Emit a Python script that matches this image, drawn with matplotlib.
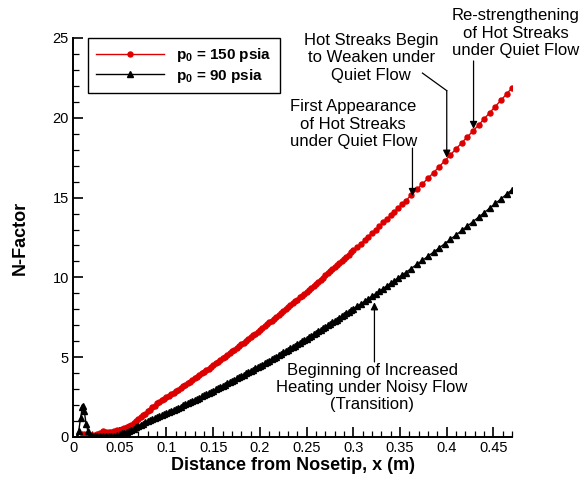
import numpy as np
import matplotlib
matplotlib.use("Agg")
import matplotlib.pyplot as plt
from matplotlib.ticker import MultipleLocator

plt.rcParams['font.family'] = ['Liberation Sans', 'DejaVu Sans']
plt.rcParams['mathtext.fontset'] = 'custom'
plt.rcParams['mathtext.rm'] = 'Liberation Sans'
plt.rcParams['mathtext.bf'] = 'Liberation Sans:bold'

# streamwise stations along the cone (m)
x_station = [
    0.004, 0.006, 0.008, 0.010, 0.011, 0.012, 0.014, 0.016, 0.018, 0.020,
    0.023, 0.026, 0.029, 0.032, 0.035, 0.038, 0.041, 0.044, 0.047, 0.050,
    0.0525, 0.055, 0.0575, 0.060, 0.0625, 0.065, 0.0675, 0.070, 0.0725, 0.075,
    0.0775, 0.080, 0.0825, 0.085, 0.0875, 0.090, 0.0925, 0.095, 0.0975, 0.100,
    0.1025, 0.105, 0.1075, 0.110, 0.1125, 0.115, 0.1175, 0.120, 0.1225, 0.125,
    0.1275, 0.130, 0.1325, 0.135, 0.1375, 0.140, 0.1425, 0.145, 0.1475, 0.150,
    0.1525, 0.155, 0.1575, 0.160, 0.1625, 0.165, 0.1675, 0.170, 0.1725, 0.175,
    0.1775, 0.180, 0.1825, 0.185, 0.1875, 0.190, 0.1925, 0.195, 0.1975, 0.200,
    0.2025, 0.205, 0.2075, 0.210, 0.2125, 0.215, 0.2175, 0.220, 0.2225, 0.225,
    0.2275, 0.230, 0.2325, 0.235, 0.2375, 0.240, 0.2425, 0.245, 0.2475, 0.250,
    0.2525, 0.255, 0.2575, 0.260, 0.2625, 0.265, 0.2675, 0.270, 0.2725, 0.275,
    0.2775, 0.280, 0.2825, 0.285, 0.2875, 0.290, 0.2925, 0.295, 0.2975, 0.300,
    0.304, 0.308, 0.312, 0.316, 0.320, 0.324, 0.328, 0.332, 0.336, 0.340,
    0.344, 0.348, 0.352, 0.356, 0.362,
    0.368, 0.374, 0.380, 0.386, 0.392, 0.398, 0.404, 0.410, 0.416, 0.422,
    0.428, 0.434, 0.440, 0.446, 0.452, 0.458, 0.464, 0.470,
]

# N-factor, p0 = 150 psia
n_150 = [
    np.nan, np.nan, np.nan, -0.15, 0.10, 0.20, 0.15, 0.10, 0.08, 0.10,
    0.12, 0.18, 0.28, 0.38, 0.32, 0.30, 0.33, 0.38, 0.42, 0.46,
    0.50, 0.54, 0.60, 0.68, 0.77, 0.88, 1.00, 1.11, 1.23, 1.35,
    1.47, 1.60, 1.72, 1.85, 1.97, 2.10, 2.20, 2.29, 2.39, 2.49,
    2.58, 2.68, 2.78, 2.87, 2.97, 3.07, 3.17, 3.27, 3.37, 3.47,
    3.57, 3.67, 3.78, 3.88, 3.98, 4.09, 4.19, 4.29, 4.40, 4.50,
    4.61, 4.72, 4.82, 4.93, 5.04, 5.15, 5.26, 5.36, 5.47, 5.58,
    5.69, 5.81, 5.92, 6.03, 6.14, 6.25, 6.37, 6.48, 6.60, 6.71,
    6.83, 6.94, 7.06, 7.18, 7.29, 7.41, 7.53, 7.65, 7.77, 7.89,
    8.01, 8.13, 8.25, 8.37, 8.49, 8.61, 8.74, 8.86, 8.98, 9.11,
    9.23, 9.36, 9.48, 9.61, 9.73, 9.86, 9.99, 10.12, 10.25, 10.37,
    10.50, 10.63, 10.76, 10.90, 11.03, 11.16, 11.29, 11.42, 11.56, 11.69,
    11.90, 12.12, 12.34, 12.56, 12.78, 13.00, 13.22, 13.44, 13.67, 13.89,
    14.12, 14.35, 14.58, 14.81, 15.15,
    15.51, 15.86, 16.22, 16.57, 16.94, 17.30, 17.67, 18.04, 18.41, 18.78,
    19.16, 19.54, 19.93, 20.31, 20.70, 21.09, 21.49, 21.88,
]

# N-factor, p0 = 90 psia
n_90 = [
    0.00, 0.35, 1.20, 1.85, 1.95, 1.60, 0.80, 0.35, 0.15, 0.08,
    0.05, 0.04, 0.04, 0.04, 0.04, 0.05, 0.06, 0.08, 0.12, 0.18,
    0.23, 0.28, 0.33, 0.39, 0.46, 0.53, 0.60, 0.68, 0.76, 0.84,
    0.92, 0.99, 1.05, 1.11, 1.18, 1.24, 1.31, 1.37, 1.44, 1.50,
    1.57, 1.64, 1.70, 1.77, 1.84, 1.91, 1.98, 2.05, 2.12, 2.19,
    2.26, 2.33, 2.40, 2.47, 2.54, 2.61, 2.69, 2.76, 2.83, 2.91,
    2.98, 3.06, 3.13, 3.21, 3.28, 3.36, 3.43, 3.51, 3.59, 3.67,
    3.74, 3.82, 3.90, 3.98, 4.06, 4.14, 4.22, 4.30, 4.38, 4.46,
    4.54, 4.63, 4.71, 4.79, 4.88, 4.96, 5.04, 5.13, 5.21, 5.30,
    5.38, 5.47, 5.56, 5.64, 5.73, 5.82, 5.91, 5.99, 6.08, 6.17,
    6.26, 6.35, 6.44, 6.53, 6.62, 6.71, 6.81, 6.90, 6.99, 7.08,
    7.18, 7.27, 7.36, 7.46, 7.55, 7.65, 7.74, 7.84, 7.93, 8.03,
    8.19, 8.34, 8.50, 8.66, 8.82, 8.98, 9.14, 9.30, 9.47, 9.63,
    9.80, 9.96, 10.13, 10.30, 10.55,
    10.81, 11.07, 11.33, 11.59, 11.85, 12.12, 12.39, 12.66, 12.94, 13.21,
    13.49, 13.77, 14.05, 14.34, 14.63, 14.91, 15.21, 15.50,
]

fig = plt.figure(figsize=(5.8, 4.79), dpi=100)
ax = fig.add_axes([0.126, 0.0877, 0.757, 0.833])

ax.plot(x_station, n_150, color='#dd0000', lw=1.0, marker='o', ms=3.6,
        mec='#dd0000', mfc='#dd0000', label=r'$\mathbf{p_0}$ = 150 psia')
ax.plot(x_station, n_90, color='black', lw=1.0, marker='^', ms=4.3,
        label=r'$\mathbf{p_0}$ = 90 psia')

ax.set_xlim(0, 0.47)
ax.set_ylim(0, 25)
ax.set_xticks([0, 0.05, 0.1, 0.15, 0.2, 0.25, 0.3, 0.35, 0.4, 0.45])
ax.set_xticklabels(['0', '0.05', '0.1', '0.15', '0.2', '0.25', '0.3', '0.35', '0.4', '0.45'])
ax.xaxis.set_minor_locator(MultipleLocator(0.01))
ax.yaxis.set_major_locator(MultipleLocator(5))
ax.yaxis.set_minor_locator(MultipleLocator(1))

for side in ['top', 'right']:
    ax.spines[side].set_visible(False)
for side in ['left', 'bottom']:
    ax.spines[side].set_linewidth(1.4)
ax.tick_params(which='major', direction='in', length=7, width=1.2, labelsize=10.5, pad=3)
ax.tick_params(which='minor', direction='in', length=4, width=0.9)

ax.set_xlabel('Distance from Nosetip, x (m)', fontsize=13, fontweight='bold', labelpad=1)
ax.set_ylabel('N-Factor', fontsize=13, fontweight='bold', labelpad=17)

leg = ax.legend(loc='upper left', bbox_to_anchor=(0.034, 1.0),
                prop={'weight': 'bold', 'size': 11}, handlelength=4.4,
                borderpad=0.55, labelspacing=0.15, fancybox=False, framealpha=1,
                borderaxespad=0, handletextpad=0.8)
leg.get_frame().set_edgecolor('black')
leg.get_frame().set_linewidth(1.0)

arrow = dict(arrowstyle='-|>', color='black', lw=0.9, mutation_scale=11,
             shrinkA=0, shrinkB=0)
tkw = dict(ha='center', va='center', fontsize=12, multialignment='center')

ax.text(0.300, 19.6, 'First Appearance\nof Hot Streaks\nunder Quiet Flow', **tkw)
ax.annotate('', xy=(0.3633, 15.1), xytext=(0.3633, 18.1), arrowprops=arrow)

ax.text(0.319, 23.75, 'Hot Streaks Begin\nto Weaken under\nQuiet Flow', **tkw)
ax.plot([0.374, 0.400], [22.8, 21.7], color='black', lw=0.9)
ax.annotate('', xy=(0.400, 17.5), xytext=(0.400, 21.7), arrowprops=arrow)

ax.text(0.474, 25.3, 'Re-strengthening\nof Hot Streaks\nunder Quiet Flow', clip_on=False, **tkw)
ax.annotate('', xy=(0.4287, 19.3), xytext=(0.4287, 23.56), arrowprops=arrow,
            annotation_clip=False)

ax.text(0.320, 3.1, 'Beginning of Increased\nHeating under Noisy Flow\n(Transition)', **tkw)
ax.annotate('', xy=(0.3226, 8.44), xytext=(0.3226, 4.7), arrowprops=arrow)

fig.savefig('out.png', dpi=100)
